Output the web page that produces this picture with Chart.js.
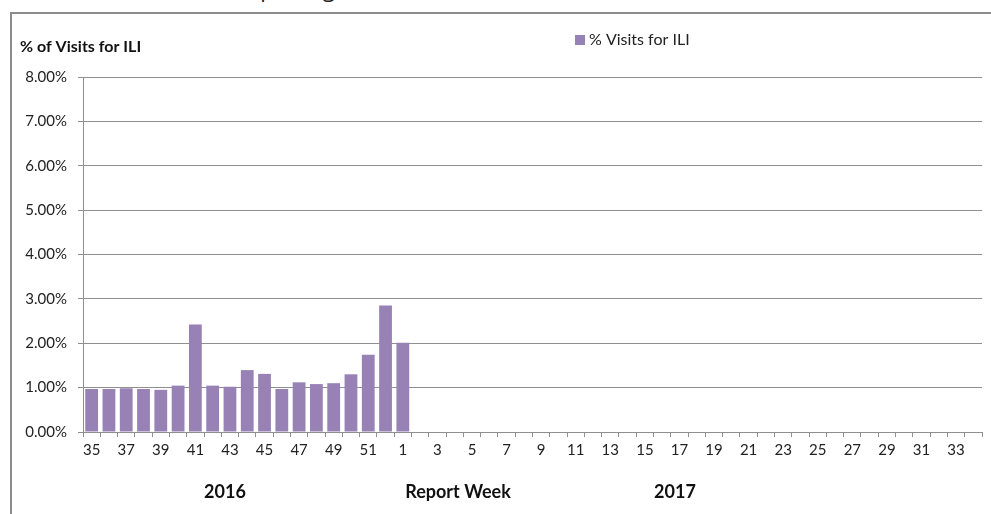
<!DOCTYPE html>
<html>
<head>
<meta charset="utf-8">
<title>% of Visits for ILI</title>
<script src="https://cdn.jsdelivr.net/npm/chart.js@4.4.1/dist/chart.umd.min.js"></script>
<style>
  html, body { margin: 0; padding: 0; background: #fff; overflow: hidden; }
  #wrap { position: relative; width: 991px; height: 514px; overflow: hidden; }
  #frame { position: absolute; left: 10px; top: 12px; right: -2px; bottom: -2px; border-left: 2px solid #8c8c8c; border-top: 2px solid #8c8c8c; }
  #topTitle { position: absolute; left: 18px; top: -27px; font: 22px "Open Sans", sans-serif; color: #222; white-space: nowrap; }
  canvas { position: absolute; left: 0; top: 0; }
</style>
</head>
<body>
<div id="wrap">
  <div id="topTitle">Number of Sentinels Reporting This Week</div>
  <div id="frame"></div>
  <canvas id="iliChart" width="991" height="514"></canvas>
</div>
<script>
// semanas de relatório (2016: 35-52, 2017: 1-34)
const semanas = [35, 36, 37, 38, 39, 40, 41, 42, 43, 44, 45, 46, 47, 48, 49, 50, 51, 52,
    1, 2, 3, 4, 5, 6, 7, 8, 9, 10, 11, 12, 13, 14, 15, 16, 17, 18, 19, 20, 21, 22, 23, 24,
    25, 26, 27, 28, 29, 30, 31, 32, 33, 34];

// % de visitas por ILI
const visitasILI = [0.97, 0.97, 0.985, 0.97, 0.95, 1.045, 2.425, 1.045, 1.02, 1.395, 1.31,
    0.97, 1.12, 1.08, 1.10, 1.30, 1.74, 2.85, 2.01];

const yTicks = [0, 1, 2, 3, 4, 5, 6, 7, 8];
const rotulosAno = [['2016', 225], ['Report Week', 458], ['2017', 675]];

const corBarra = '#9882b5';
const corGrade = '#8f8f8f';
const fonte = 'Lato, "Open Sans", sans-serif';

const extras = {
    id: 'extras',
    afterDraw(chart) {
        const ctx = chart.ctx;
        ctx.save();
        ctx.fillStyle = '#111';
        ctx.textBaseline = 'middle';
        ctx.textAlign = 'left';
        ctx.font = 'bold 16px ' + fonte;
        ctx.fillText('% of Visits for ILI', 20, 47);

        // legenda
        ctx.fillStyle = corBarra;
        ctx.fillRect(575, 35, 10, 10);
        ctx.fillStyle = '#222';
        ctx.font = '16px ' + fonte;
        ctx.fillText(chart.data.datasets[0].label, 589, 40);

        // anos / título do eixo
        ctx.textAlign = 'center';
        ctx.font = 'bold 18px ' + fonte;
        ctx.fillStyle = '#111';
        rotulosAno.forEach(([txt, x]) => ctx.fillText(txt, x, 492));
        ctx.restore();
    }
};

new Chart(document.getElementById('iliChart'), {
    type: 'bar',
    data: {
        labels: semanas,
        datasets: [{
            label: '% Visits for ILI',
            data: visitasILI,
            backgroundColor: corBarra,
            borderWidth: 0,
            barPercentage: 0.74,
            categoryPercentage: 1.0
        }]
    },
    options: {
        responsive: false,
        animation: false,
        layout: { padding: { left: 0, top: 77, right: 9, bottom: 0 } },
        plugins: {
            legend: { display: false },
            tooltip: { enabled: false }
        },
        scales: {
            x: {
                offset: true,
                afterFit(scale) { scale.height = 82; },
                grid: {
                    offset: true,
                    drawOnChartArea: false,
                    color: corGrade,
                    tickLength: 5
                },
                border: { color: corGrade, width: 1 },
                ticks: {
                    autoSkip: false,
                    maxRotation: 0,
                    padding: 4,
                    color: '#222',
                    font: { family: fonte, size: 15 },
                    callback: function(val, i) {
                        return i % 2 === 0 ? this.getLabelForValue(val) : '';
                    }
                }
            },
            y: {
                min: 0,
                max: 8,
                afterFit(scale) { scale.width = 83; },
                afterBuildTicks(scale) { scale.ticks = yTicks.map(v => ({ value: v })); },
                grid: { color: corGrade, tickLength: 5 },
                border: { color: corGrade, width: 1 },
                ticks: {
                    padding: 11,
                    color: '#222',
                    font: { family: fonte, size: 15 },
                    callback: v => v.toFixed(2) + '%'
                }
            }
        }
    },
    plugins: [extras]
});
</script>
</body>
</html>
